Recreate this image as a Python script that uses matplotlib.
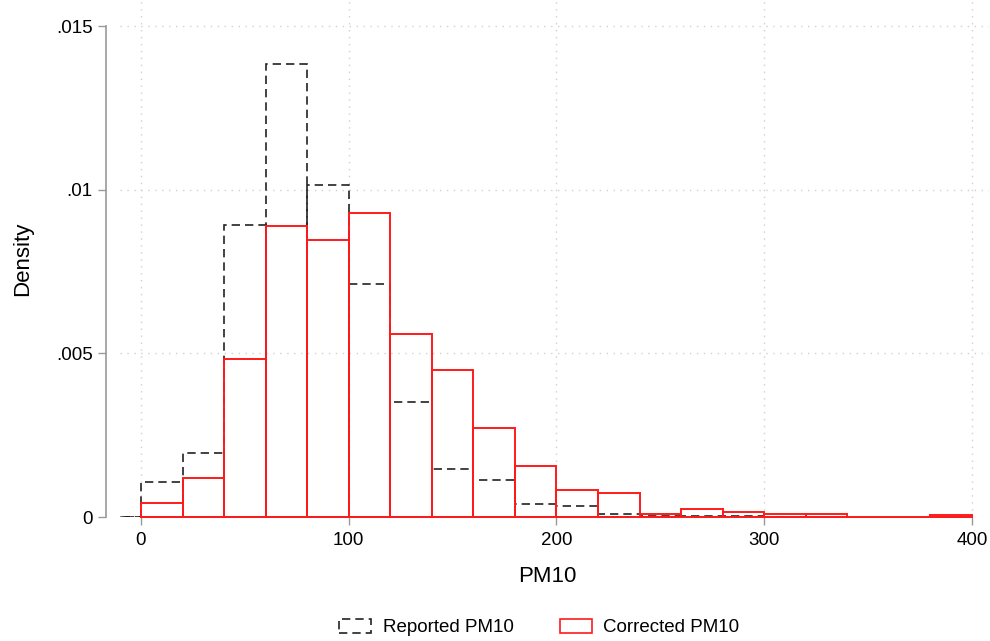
import matplotlib
matplotlib.use('Agg')
import matplotlib.pyplot as plt
from matplotlib.patches import Patch

# bin edges (width 20) and densities
reported_left = [-20, 0, 20, 40, 60, 80, 100, 120, 140, 160, 180, 200, 220, 240, 260, 280, 300]
reported_density = [0, 0.00107, 0.00196, 0.00893, 0.01385, 0.01015, 0.00711, 0.00352, 0.00146,
                    0.00112, 0.00040, 0.00033, 0.00010, 0.00003, 0.00004, 0.00002, 0.00001]

corrected_left = [0, 20, 40, 60, 80, 100, 120, 140, 160, 180, 200, 220, 240, 260, 280, 300, 320, 340, 360, 380]
corrected_density = [0.00043, 0.00120, 0.00484, 0.00890, 0.00847, 0.00929, 0.00558, 0.00448,
                     0.00272, 0.00156, 0.00083, 0.00074, 0.00008, 0.00024, 0.00014, 0.00008,
                     0.00008, 0.0, 0.0, 0.00005]
bin_width = 20

x_ticks = [0, 100, 200, 300, 400]
y_ticks = [0, 0.005, 0.01, 0.015]
y_labels = ['0', '.005', '.01', '.015']

plt.rcParams['font.family'] = ['Liberation Sans', 'DejaVu Sans']

fig = plt.figure(figsize=(9.9, 6.41), dpi=100)
ax = fig.add_axes([0.1214, 0.1934, 0.8772, 0.8066])

ax.bar(reported_left, reported_density, width=bin_width, align='edge', fill=False,
       edgecolor='#222222', linewidth=1.2, linestyle=(0, (5, 3)), zorder=3)
ax.bar(corrected_left, corrected_density, width=bin_width, align='edge', fill=False,
       edgecolor='#ff1a1a', linewidth=1.4, zorder=4, clip_on=False)

ax.set_xlim(-10, 408)
ax.set_ylim(0, 0.0158)

ax.set_xticks(x_ticks)
ax.set_yticks(y_ticks)
ax.set_yticklabels(y_labels)
ax.tick_params(axis='both', labelsize=13.5, color='#999999', length=6, width=1, direction='out')
ax.tick_params(axis='x', pad=5)

for s in ['top', 'right']:
    ax.spines[s].set_visible(False)
ax.spines['left'].set_bounds(0, 0.015)
ax.spines['left'].set_position(('outward', 10.4))
ax.spines['bottom'].set_bounds(0, 400)
for s in ['left', 'bottom']:
    ax.spines[s].set_color('#999999')
    ax.spines[s].set_linewidth(1.2)

ax.grid(True, color='#d0d0d0', linestyle=(0, (1, 4)), linewidth=1)
ax.set_axisbelow(True)

ax.set_xlabel('PM10', fontsize=16)
ax.xaxis.set_label_coords(0.4915, -0.095)
ax.set_ylabel('Density', fontsize=16, labelpad=16)

handles = [Patch(fill=False, edgecolor='#222222', linewidth=1.2, linestyle=(0, (5, 3))),
           Patch(fill=False, edgecolor='#ff1a1a', linewidth=1.2)]
fig.legend(handles, ['Reported PM10', 'Corrected PM10'], loc='center', ncol=2,
           bbox_to_anchor=(0.545, 0.021), frameon=False, fontsize=13.5,
           handlelength=1.7, handleheight=0.8, handletextpad=0.6, columnspacing=2.5)

fig.savefig('out.png', dpi=100)
